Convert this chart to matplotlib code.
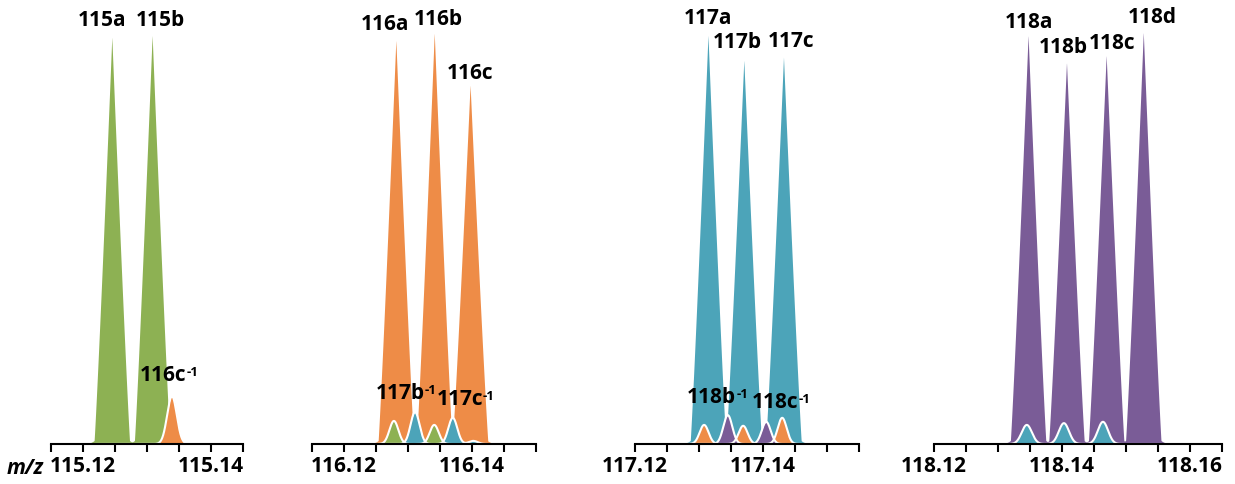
import numpy as np
import matplotlib
matplotlib.use("Agg")
import matplotlib.pyplot as plt

plt.rcParams['font.family'] = ['Open Sans', 'DejaVu Sans']

GREEN = '#8db153'
ORANGE = '#ee8c47'
TEAL = '#4ca4b9'
PURPLE = '#7a5c97'

# m/z window of each panel
xlims = [(115.115, 115.145), (116.115, 116.150), (117.120, 117.155), (118.120, 118.165)]

# reporter ions (intensity in % of panel height)
main_names = [["115a", "115b"], ["116a", "116b", "116c"],
              ["117a", "117b", "117c"], ["118a", "118b", "118c", "118d"]]
main_mz = [[115.1245, 115.1308],
           [116.1281, 116.1341, 116.1397],
           [117.1314, 117.1370, 117.1432],
           [118.1347, 118.1407, 118.1469, 118.1527]]
main_int = [[91.7, 92.1],
            [91.0, 92.6, 80.9],
            [92.1, 86.5, 87.2],
            [92.1, 86.0, 87.6, 92.8]]
main_color = [GREEN, ORANGE, TEAL, PURPLE]

# isotope impurity peaks (-1 channels)
imp1_orange_mz = [115.1339]
imp1_orange_int = [10.8]
imp2_green_mz = [116.1278, 116.1341]
imp2_green_int = [5.2, 4.3]
imp2_teal_mz = [116.1311, 116.1370, 116.1402]
imp2_teal_int = [7.2, 5.9, 0.7]
imp3_orange_mz = [117.1308, 117.1369, 117.1430]
imp3_orange_int = [4.3, 4.1, 5.9]
imp3_purple_mz = [117.1345, 117.1405]
imp3_purple_int = [6.5, 5.0]
imp4_teal_mz = [118.1345, 118.1403, 118.1464]
imp4_teal_int = [4.3, 4.7, 5.0]

# label offsets in pixels from peak top (dx, dy)
main_offsets = [[(-10, 16), (8, 15)],
                [(-11, 15), (4, 13), (0, 11)],
                [(0, 17), (-6, 17), (8, 15)],
                [(1, 13), (-3, 15), (6, 12), (9, 14)]]

FS = 15
W, H = 1235, 484
PX_PER_MZ = 6400
BASE_PX = 444
panel_left = [51, 312, 635, 934]


def reporter_shape(x, c, h):
    d = np.abs(x - c)
    w = 0.0028
    core = np.clip(1 - d / w, 0, None) ** 1.1
    foot = 0.06 * np.exp(-0.5 * (d / 0.0014) ** 2)
    return h * np.maximum(core, foot)


def impurity_shape(x, mzs, ints, s):
    y = np.zeros_like(x)
    for c, h in zip(mzs, ints):
        y += h * np.exp(-0.5 * ((x - c) / s) ** 2)
    return y


fig = plt.figure(figsize=(W / 100, H / 100), dpi=100)

impurities = [
    [(ORANGE, imp1_orange_mz, imp1_orange_int, 0.00075)],
    [(GREEN, imp2_green_mz, imp2_green_int, 0.0007), (TEAL, imp2_teal_mz, imp2_teal_int, 0.0007)],
    [(ORANGE, imp3_orange_mz, imp3_orange_int, 0.0007), (PURPLE, imp3_purple_mz, imp3_purple_int, 0.0007)],
    [(TEAL, imp4_teal_mz, imp4_teal_int, 0.0008)],
]

# impurity labels: (panel, text, mz, intensity, dx, dy)
imp_labels = [(0, "116c", imp1_orange_mz[0], imp1_orange_int[0], -9, 21),
              (1, "117b", imp2_teal_mz[0], imp2_teal_int[0], -15, 19),
              (1, "117c", imp2_teal_mz[1], imp2_teal_int[1], 7, 18),
              (2, "118b", imp3_purple_mz[0], imp3_purple_int[0], -16, 18),
              (2, "118c", imp3_purple_mz[1], imp3_purple_int[1], 9, 19)]

axes = []
for i in range(4):
    x0, x1 = xlims[i]
    wpx = (x1 - x0) * PX_PER_MZ
    ax = fig.add_axes([panel_left[i] / W, (H - BASE_PX) / H, wpx / W, BASE_PX / H])
    axes.append(ax)
    x = np.linspace(x0, x1, 3000)

    for c, h in zip(main_mz[i], main_int[i]):
        ax.fill_between(x, 0, reporter_shape(x, c, h), color=main_color[i], lw=0, zorder=1)
    for col, mzs, ints, s in impurities[i]:
        y = impurity_shape(x, mzs, ints, s)
        ax.fill_between(x, 0, y, color=col, lw=0, zorder=2)
        ax.plot(x, y, color='white', lw=1.5, zorder=2.2)

    for name, c, h, (dx, dy) in zip(main_names[i], main_mz[i], main_int[i], main_offsets[i]):
        ax.annotate(name, xy=(c, h), xytext=(dx, dy), textcoords='offset pixels',
                    ha='center', va='center', fontsize=FS, fontweight='bold')

    ax.set_xlim(x0, x1)
    ax.set_ylim(0, 100)
    ticks = [round(x0 + k * 0.005, 3) for k in range(int(round((x1 - x0) / 0.005)) + 1)]
    ax.set_xticks(ticks)
    ax.set_xticklabels([f"{t:.2f}" if abs(t * 50 - round(t * 50)) < 1e-6 else "" for t in ticks])
    ax.tick_params(axis='x', direction='out', length=6, width=1.5, pad=3, labelsize=FS)
    for lab in ax.get_xticklabels():
        lab.set_fontweight('bold')
    ax.set_yticks([])
    for sp in ['top', 'left', 'right']:
        ax.spines[sp].set_visible(False)
    ax.spines['bottom'].set_linewidth(1.5)
    ax.patch.set_alpha(0)

for p, name, c, h, dx, dy in imp_labels:
    ax = axes[p]
    t = ax.annotate(name, xy=(c, h), xytext=(dx, dy), textcoords='offset pixels',
                    ha='center', va='center', fontsize=FS, fontweight='bold', zorder=5)
    ax.annotate("-1", xy=(1, 1), xycoords=t, xytext=(0, -1), textcoords='offset pixels',
                ha='left', va='top', fontsize=9.5, fontweight='bold', zorder=5)

fig.text(25 / W, (H - 468) / H, "m/z", style='italic', fontsize=FS, fontweight='bold',
         ha='center', va='center')

fig.savefig("out.png", dpi=100)
